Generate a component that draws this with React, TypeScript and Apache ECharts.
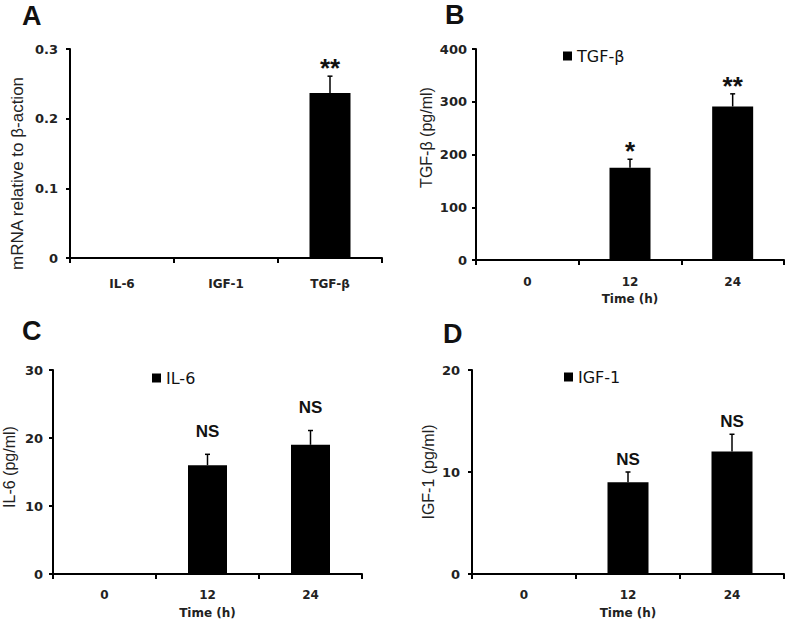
import React, { useEffect, useRef } from "react";
import * as echarts from "echarts";

// ---- Data ----
const mrnaCategories = ["IL-6", "IGF-1", "TGF-β"];
const mrnaValues = [0, 0, 0.237];
const mrnaErrors = [0, 0, 0.024];
const mrnaSig = ["", "", "**"];

const timeCategories = ["0", "12", "24"];

const tgfValues = [0, 175, 291];
const tgfErrors = [0, 16, 24];
const tgfSig = ["", "*", "**"];

const il6Values = [0, 16, 19];
const il6Errors = [0, 1.6, 2.1];
const il6Sig = ["", "NS", "NS"];

const igfValues = [0, 9, 12];
const igfErrors = [0, 1.0, 1.7];
const igfSig = ["", "NS", "NS"];

const yMaxA = 0.3, yStepA = 0.1;
const yMaxB = 400, yStepB = 100;
const yMaxC = 30, yStepC = 10;
const yMaxD = 20, yStepD = 10;

// ---- Styles ----
const TICK_FONT = "DejaVu Sans";
const TITLE_FONT = "Liberation Sans";

function errRenderer(sig: string[], gap: number) {
  return (params: any, api: any) => {
    const i = api.value(0);
    const v = api.value(1);
    const e = api.value(2);
    if (!v && !e) return { type: "group", children: [] };
    const base = api.coord([i, v]);
    const top = api.coord([i, v + e]);
    const cap = 2.5;
    const label = sig[params.dataIndex] || "";
    const isStar = label.indexOf("*") >= 0;
    const children: any[] = [
      {
        type: "line",
        shape: { x1: base[0], y1: base[1], x2: top[0], y2: top[1] },
        style: { stroke: "#000", lineWidth: 1.5 },
      },
      {
        type: "line",
        shape: { x1: top[0] - cap, y1: top[1], x2: top[0] + cap, y2: top[1] },
        style: { stroke: "#000", lineWidth: 1.5 },
      },
    ];
    if (label) {
      children.push({
        type: "text",
        x: top[0],
        y: top[1] - gap,
        style: {
          text: label,
          fill: "#111",
          font: isStar ? "bold 26px 'Liberation Sans'" : "bold 17px 'Liberation Sans'",
          align: "center",
          verticalAlign: "middle",
          textAlign: "center",
          textVerticalAlign: "middle",
        },
      });
    }
    return { type: "group", children };
  };
}

function xAxisCfg(gridIndex: number, data: string[], margin: number, name?: string) {
  return {
    type: "category",
    gridIndex,
    data,
    boundaryGap: true,
    name: name || "",
    nameLocation: "middle",
    nameGap: 33,
    nameTextStyle: { fontFamily: TICK_FONT, fontWeight: "bold", fontSize: 12, color: "#222" },
    axisLine: { show: true, lineStyle: { color: "#000", width: 2 } },
    axisTick: { show: true, length: 5, alignWithLabel: false, lineStyle: { color: "#000", width: 2 } },
    axisLabel: { fontFamily: TICK_FONT, fontWeight: "bold", fontSize: 12, color: "#222", margin },
    splitLine: { show: false },
  };
}

function yAxisCfg(
  gridIndex: number,
  max: number,
  interval: number,
  name: string,
  nameGap: number,
  nameSize: number,
  padding: number[],
  labelMargin: number
) {
  return {
    type: "value",
    gridIndex,
    min: 0,
    max,
    interval,
    name,
    nameLocation: "middle",
    nameGap,
    nameRotate: 90,
    nameTextStyle: {
      fontFamily: TITLE_FONT,
      fontSize: nameSize,
      color: "#222",
      padding,
    },
    axisLine: { show: true, lineStyle: { color: "#000", width: 2 } },
    axisTick: { show: true, length: 4, lineStyle: { color: "#000", width: 2 } },
    axisLabel: { fontFamily: TICK_FONT, fontWeight: "bold", fontSize: 13, color: "#222", margin: labelMargin },
    splitLine: { show: false },
  };
}

function legendCfg(name: string, left: number, top: number) {
  return {
    data: [name],
    left,
    top,
    padding: 0,
    icon: "rect",
    itemWidth: 9,
    itemHeight: 9,
    selectedMode: false,
    textStyle: { fontFamily: TICK_FONT, fontSize: 16, color: "#111" },
  };
}

function barSeries(name: string, idx: number, values: number[], width: number) {
  return {
    type: "bar",
    name,
    xAxisIndex: idx,
    yAxisIndex: idx,
    data: values,
    barWidth: width,
    itemStyle: { color: "#000" },
  };
}

function errSeries(idx: number, values: number[], errors: number[], sig: string[], gap: number) {
  return {
    type: "custom",
    name: "err" + idx,
    xAxisIndex: idx,
    yAxisIndex: idx,
    data: values.map((v, i) => [i, v, errors[i]]),
    encode: { x: 0, y: 1 },
    renderItem: errRenderer(sig, gap),
    z: 5,
  };
}

function letter(text: string, x: number, y: number) {
  return {
    type: "text",
    x,
    y,
    style: {
      text,
      font: "bold 27px 'Liberation Sans'",
      fill: "#111",
      align: "left",
      verticalAlign: "middle",
    },
  };
}

export default function App() {
  const ref = useRef<HTMLDivElement>(null);
  useEffect(() => {
    if (!ref.current) return;
    const chart = echarts.init(ref.current, undefined, { renderer: "svg" });
    const option: any = {
      animation: false,
      backgroundColor: "#fff",
      grid: [
        { left: 70, top: 49, width: 312, height: 209 },
        { left: 476, top: 49, width: 308, height: 211 },
        { left: 53, top: 370, width: 309, height: 204 },
        { left: 472, top: 370, width: 312, height: 204 },
      ],
      xAxis: [
        xAxisCfg(0, mrnaCategories, 20),
        xAxisCfg(1, timeCategories, 16, "Time (h)"),
        xAxisCfg(2, timeCategories, 15, "Time (h)"),
        xAxisCfg(3, timeCategories, 15, "Time (h)"),
      ],
      yAxis: [
        yAxisCfg(0, yMaxA, yStepA, "mRNA relative to β-action", 44, 17, [0, 40, 0, 0], 12),
        yAxisCfg(1, yMaxB, yStepB, "TGF-β (pg/ml)", 42, 16, [0, 0, 0, 34], 9),
        yAxisCfg(2, yMaxC, yStepC, "IL-6 (pg/ml)", 36, 16, [0, 0, 0, 10], 10),
        yAxisCfg(3, yMaxD, yStepD, "IGF-1 (pg/ml)", 36, 16, [0, 0, 0, 0], 12),
      ],
      legend: [
        legendCfg("TGF-β", 563, 48),
        legendCfg("IL-6", 152, 370),
        legendCfg("IGF-1", 564, 369),
      ],
      series: [
        barSeries("mRNA", 0, mrnaValues, 41),
        errSeries(0, mrnaValues, mrnaErrors, mrnaSig, 8),
        barSeries("TGF-β", 1, tgfValues, 41),
        errSeries(1, tgfValues, tgfErrors, tgfSig, 8),
        barSeries("IL-6", 2, il6Values, 39),
        errSeries(2, il6Values, il6Errors, il6Sig, 23),
        barSeries("IGF-1", 3, igfValues, 41),
        errSeries(3, igfValues, igfErrors, igfSig, 13),
      ],
      graphic: [
        letter("A", 22, 16),
        letter("B", 445, 15),
        letter("C", 22, 331),
        letter("D", 443, 334),
      ],
    };
    chart.setOption(option);
    return () => chart.dispose();
  }, []);
  return (
    <div
      ref={ref}
      style={{ position: "fixed", left: 0, top: 0, width: 787, height: 626, background: "#fff" }}
    />
  );
}
